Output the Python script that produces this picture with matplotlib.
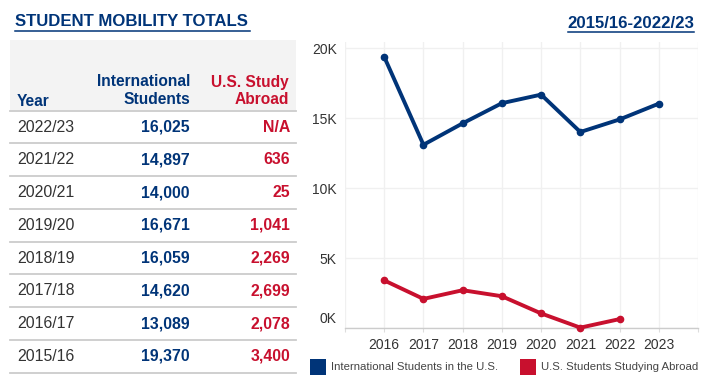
import matplotlib
matplotlib.use("Agg")
import matplotlib.pyplot as plt
from matplotlib.ticker import FuncFormatter
from matplotlib.patches import Rectangle
from matplotlib.lines import Line2D

plt.rcParams['font.family'] = ['Liberation Sans', 'DejaVu Sans']

# ---- data ----
row_years = ["2022/23", "2021/22", "2020/21", "2019/20", "2018/19", "2017/18", "2016/17", "2015/16"]
intl_students = [16025, 14897, 14000, 16671, 16059, 14620, 13089, 19370]
study_abroad = [None, 636, 25, 1041, 2269, 2699, 2078, 3400]

chart_years = [2016, 2017, 2018, 2019, 2020, 2021, 2022, 2023]
chart_intl = [19370, 13089, 14620, 16059, 16671, 14000, 14897, 16025]
chart_abroad = [3400, 2078, 2699, 2269, 1041, 25, 636]

title_left = "STUDENT MOBILITY TOTALS"
title_right = "2015/16-2022/23"
legend_labels = ["International Students in the U.S.", "U.S. Students Studying Abroad"]

BLUE = "#003478"
RED = "#c8102e"
DARK = "#333333"
W, H = 720, 392

fig = plt.figure(figsize=(7.2, 3.92), dpi=100)
fig.patch.set_facecolor("white")

def fx(x):
    return x / W

def fy(y):
    return 1 - y / H

# ---- titles ----
fig.text(fx(15), fy(22), title_left, color=BLUE, fontsize=12.1, fontweight='bold',
         ha='left', va='center')
fig.add_artist(Line2D([fx(15), fx(250)], [fy(30.5), fy(30.5)], color=BLUE, lw=1.1))

fig.text(fx(694), fy(23), title_right, color=BLUE, fontsize=12.1, fontweight='bold',
         ha='right', va='center')
fig.add_artist(Line2D([fx(568), fx(694)], [fy(32), fy(32)], color=BLUE, lw=1.1))

# ---- table ----
fig.add_artist(Rectangle((fx(10), fy(110)), fx(296) - fx(10), fy(40) - fy(110),
                         transform=fig.transFigure, facecolor="#f3f3f3", edgecolor='none'))
fig.text(fx(17), fy(101), "Year", color=BLUE, fontsize=11.2, fontweight='bold', ha='left', va='center')
fig.text(fx(190), fy(82), "International", color=BLUE, fontsize=11.2, fontweight='bold', ha='right', va='center')
fig.text(fx(190), fy(99), "Students", color=BLUE, fontsize=11.2, fontweight='bold', ha='right', va='center')
fig.text(fx(289), fy(82), "U.S. Study", color=RED, fontsize=11.2, fontweight='bold', ha='right', va='center')
fig.text(fx(289), fy(99), "Abroad", color=RED, fontsize=11.2, fontweight='bold', ha='right', va='center')

top = 110.7
rh = 32.75
fig.add_artist(Line2D([fx(10), fx(296)], [fy(top), fy(top)], color="#cccccc", lw=1.3))
for i, (yr, iv, av) in enumerate(zip(row_years, intl_students, study_abroad)):
    yc = top + rh * (i + 0.5)
    fig.text(fx(17), fy(yc), yr, color=DARK, fontsize=11.4, ha='left', va='center')
    fig.text(fx(190), fy(yc), f"{iv:,}", color=BLUE, fontsize=11.4, fontweight='bold', ha='right', va='center')
    at = "N/A" if av is None else f"{av:,}"
    fig.text(fx(290), fy(yc), at, color=RED, fontsize=11.4, fontweight='bold', ha='right', va='center')
    yl = top + rh * (i + 1)
    fig.add_artist(Line2D([fx(10), fx(296)], [fy(yl), fy(yl)], color="#cccccc", lw=1.3))

# ---- chart ----
ax = fig.add_axes([fx(345), fy(328), fx(698) - fx(345), fy(42) - fy(328)])
ax.set_xlim(2015, 2024)
ax.set_ylim(0, 20430)
for s in ['top', 'right', 'left']:
    ax.spines[s].set_visible(False)
ax.spines['bottom'].set_color("#cccccc")
ax.spines['bottom'].set_linewidth(1.0)

ax.set_xticks(list(range(2015, 2025)))
ax.set_xticklabels([""] + [str(y) for y in chart_years] + [""])
ax.set_yticks([0, 5000, 10000, 15000, 20000])
ax.yaxis.set_major_formatter(FuncFormatter(lambda v, p: "" if v == 0 else f"{int(v/1000)}K"))
ax.tick_params(axis='y', length=0, pad=6, labelsize=10, labelcolor=DARK)
ax.tick_params(axis='x', length=3, width=0.8, color="#dddddd", pad=4, labelsize=10, labelcolor=DARK)
ax.grid(True, color="#f0f0f0", lw=1.0)
ax.set_axisbelow(True)
ax.annotate("0K", xy=(0, 0), xycoords=('axes fraction', 'data'), xytext=(-8, 9),
            textcoords='offset pixels', ha='right', va='center', fontsize=10, color=DARK)

ax.plot(chart_years, chart_intl, color=BLUE, lw=2.8, marker='o', markersize=4.5, clip_on=False, zorder=3)
ax.plot(chart_years[:len(chart_abroad)], chart_abroad, color=RED, lw=2.8, marker='o', markersize=4.5,
        clip_on=False, zorder=3)

# ---- legend ----
fig.add_artist(Rectangle((fx(310), fy(375)), fx(16), 16 / H, transform=fig.transFigure,
                         facecolor=BLUE, edgecolor='none'))
fig.text(fx(331), fy(367), legend_labels[0], color="#444444", fontsize=8.2, ha='left', va='center')
fig.add_artist(Rectangle((fx(520), fy(375)), fx(16), 16 / H, transform=fig.transFigure,
                         facecolor=RED, edgecolor='none'))
fig.text(fx(541), fy(367), legend_labels[1], color="#444444", fontsize=8.2, ha='left', va='center')

fig.savefig("out.png", dpi=100)
